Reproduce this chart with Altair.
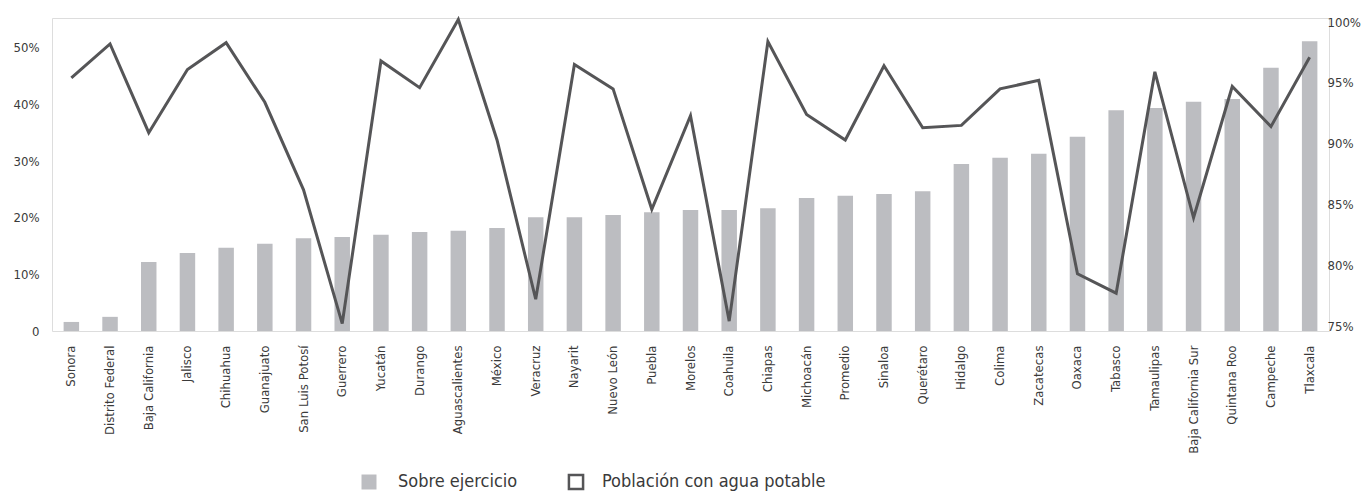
import altair as alt
import pandas as pd

estados = ["Sonora", "Distrito Federal", "Baja California", "Jalisco", "Chihuahua",
           "Guanajuato", "San Luis Potosí", "Guerrero", "Yucatán", "Durango",
           "Aguascalientes", "México", "Veracruz", "Nayarit", "Nuevo León", "Puebla",
           "Morelos", "Coahuila", "Chiapas", "Michoacán", "Promedio", "Sinaloa",
           "Querétaro", "Hidalgo", "Colima", "Zacatecas", "Oaxaca", "Tabasco",
           "Tamaulipas", "Baja California Sur", "Quintana Roo", "Campeche", "Tlaxcala"]
sobre_ejercicio = [1.6, 2.5, 12.2, 13.8, 14.7, 15.4, 16.4, 16.6, 17.0, 17.5,
                   17.7, 18.2, 20.1, 20.1, 20.5, 21.0, 21.4, 21.4, 21.7, 23.5,
                   23.9, 24.2, 24.7, 29.5, 30.6, 31.3, 34.3, 39.0, 39.4, 40.5,
                   41.0, 46.5, 51.2]
agua_potable = [95.4, 98.2, 90.9, 96.1, 98.3, 93.4, 86.2, 75.2, 96.8, 94.6,
                100.2, 90.3, 77.2, 96.5, 94.5, 84.6, 92.3, 75.4, 98.4, 92.4,
                90.3, 96.4, 91.3, 91.5, 94.5, 95.2, 79.3, 77.7, 95.9, 83.9,
                94.7, 91.4, 97.1]
left_ticks = [0, 10, 20, 30, 40, 50]
right_ticks = [75, 80, 85, 90, 95, 100]

df = pd.DataFrame({
    "estado": estados,
    "sobre": sobre_ejercicio,
    "agua": agua_potable,
    "s1": ["Sobre ejercicio"] * len(estados),
    "s2": ["Población con agua potable"] * len(estados),
})

FONT = "Liberation Sans Narrow, Arial Narrow, DejaVu Sans Condensed, Roboto Condensed, sans-serif"
TXT = "#3a3a3a"

x = alt.X("estado:N", sort=estados, title=None,
          scale=alt.Scale(paddingInner=0.6, paddingOuter=0.3),
          axis=alt.Axis(labelAngle=270, labelFontSize=13, labelPadding=14, grid=False,
                        ticks=False, domain=False, labelColor=TXT, labelFont=FONT))

bars = alt.Chart(df).mark_bar(color="#bcbdc1").encode(
    x=x,
    y=alt.Y("sobre:Q", title=None,
            scale=alt.Scale(domain=[0, 55.3], nice=False, zero=True),
            axis=alt.Axis(values=left_ticks, grid=False, domain=False, ticks=False,
                          labelFontSize=13, labelPadding=13, labelColor=TXT, labelFont=FONT,
                          labelExpr="datum.value == 0 ? '0' : datum.value + '%'")),
    fill=alt.Fill("s1:N", title=None,
                  scale=alt.Scale(range=["#bcbdc1"]),
                  legend=alt.Legend(orient="none", legendX=308, legendY=455,
                                    symbolType="square", symbolSize=225,
                                    labelFontSize=18, labelFont=FONT, labelColor=TXT,
                                    labelOffset=20, symbolStrokeWidth=0, labelLimit=400)),
)

line = alt.Chart(df).mark_line(strokeWidth=3).encode(
    x=x,
    y=alt.Y("agua:Q", title=None,
            scale=alt.Scale(domain=[74.59, 100.33], nice=False, zero=False),
            axis=alt.Axis(orient="right", values=right_ticks, grid=False, domain=False,
                          ticks=False, labelFontSize=13, labelPadding=-2, labelColor=TXT,
                          labelFont=FONT, labelExpr="datum.value + '%'")),
    stroke=alt.Stroke("s2:N", title=None,
                      scale=alt.Scale(range=["#555557"]),
                      legend=alt.Legend(orient="none", legendX=515, legendY=455,
                                        symbolType="square", symbolSize=200,
                                        symbolStrokeWidth=2.5, symbolFillColor="white",
                                        labelFontSize=18, labelFont=FONT, labelColor=TXT,
                                        labelOffset=17, labelLimit=400)),
)

chart = alt.layer(bars, line).resolve_scale(y="independent", fill="independent", stroke="independent").properties(
    width=1277, height=313,
    autosize=alt.AutoSizeParams(type="none"),
    padding={"left": 44, "top": 10, "right": 32, "bottom": 161},
).configure_view(strokeWidth=0).configure_axis(grid=False, domain=False).configure(font=FONT)

chart.save("out.html", embed_options={"renderer": "svg", "actions": False})
